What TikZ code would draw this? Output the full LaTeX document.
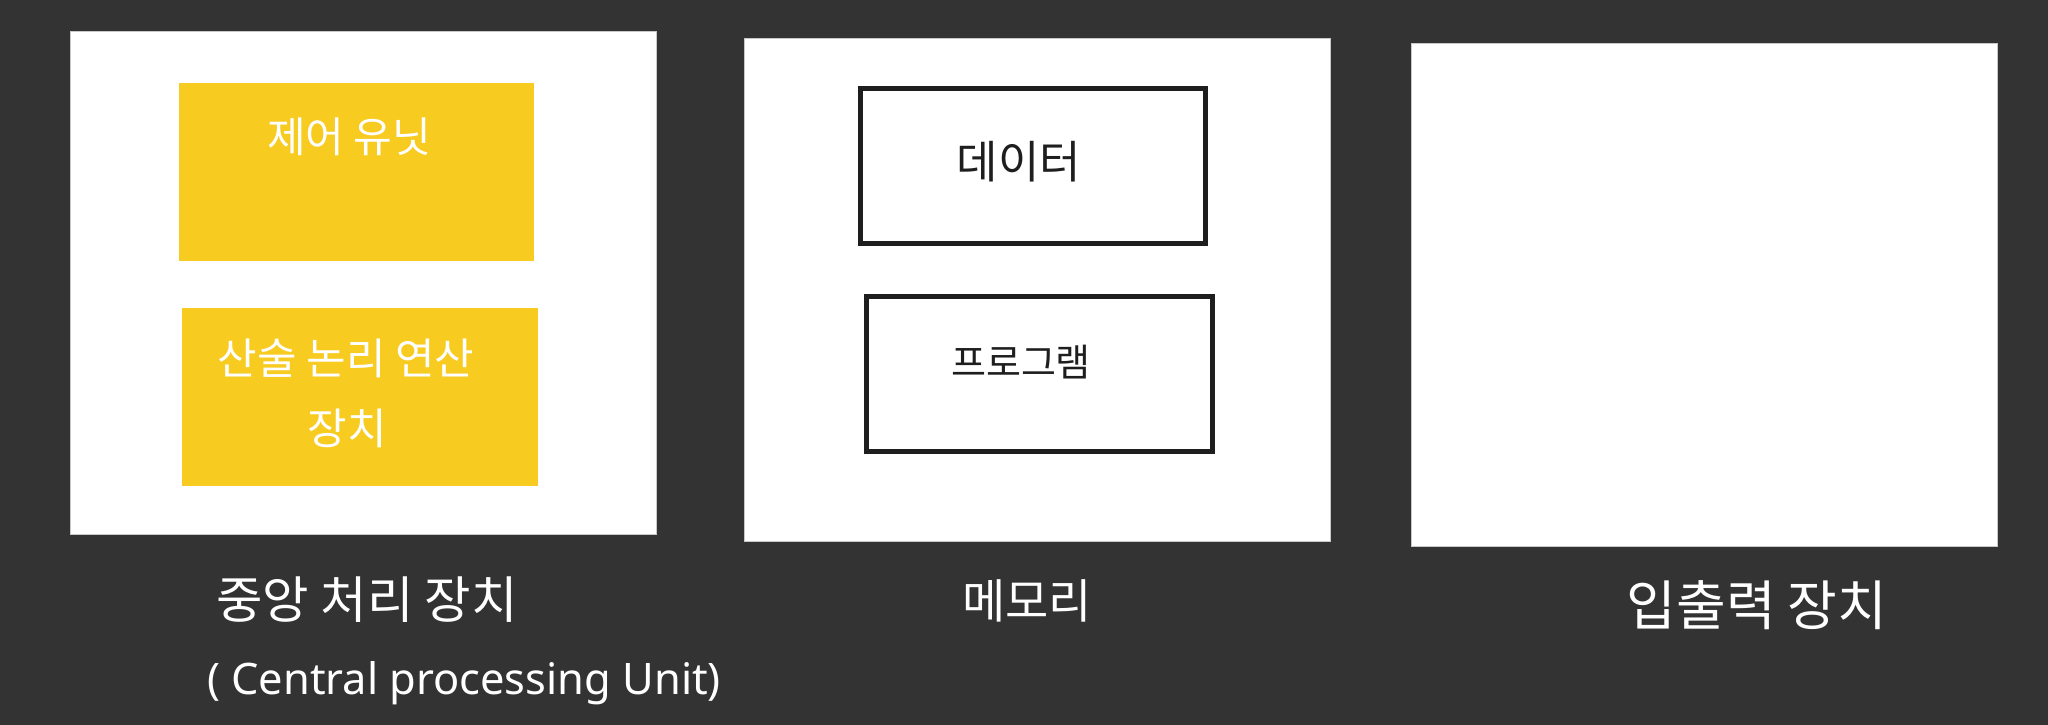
\documentclass[tikz,border=0pt]{standalone}
\usepackage{fontspec}
\setmainfont{Noto Sans CJK KR}
\newfontfamily\latinhand{Noto Sans}
\definecolor{bgdark}{HTML}{333333}
\definecolor{cardyellow}{HTML}{F7CB1F}
\definecolor{panelrim}{HTML}{C8C8C8}
\definecolor{inkblack}{HTML}{1E1E1E}
\tikzset{
  panel/.style={rectangle, fill=white, draw=panelrim, line width=1pt, inner sep=0pt, outer sep=0pt, minimum width=586pt, minimum height=502pt},
  yellowcard/.style={rectangle, fill=cardyellow, inner sep=0pt, outer sep=0pt, minimum height=178pt},
  memcard/.style={rectangle, fill=white, draw=inkblack, line width=5pt, inner sep=0pt, outer sep=0pt, minimum height=155pt},
  whitetxt/.style={text=white, inner sep=0pt},
  blacktxt/.style={text=inkblack, inner sep=0pt},
}
\begin{document}
\begin{tikzpicture}[x=1pt, y=-1pt]
\fill[bgdark] (0,0) rectangle (2048,725);
\useasboundingbox (0,0) rectangle (2048,725);
% panels
\node[panel] (cpu) at (363,283) {};
\node[panel] (mem) at (1037,290) {};
\node[panel] (io) at (1704,295) {};
% CPU parts
\node[yellowcard, minimum width=355pt] (cu) at (356.5,172) {};
\node[yellowcard, minimum width=356pt] (alu) at (360,397) {};
\node[whitetxt, font=\fontsize{42}{50}\selectfont] (cutxt) at (349,137) {제어 유닛};
\node[whitetxt, font=\fontsize{43}{70}\selectfont] (alutxt1) at (346,358) {산술 논리 연산};
\node[whitetxt, font=\fontsize{43}{70}\selectfont] (alutxt2) at (347,428) {장치};
% memory parts
\node[memcard, minimum width=345pt] (data) at (1033,166) {};
\node[memcard, minimum width=346pt] (prog) at (1039.5,374) {};
\node[blacktxt, font=\fontsize{45}{54}\selectfont] (datatxt) at (1019,162) {데이터};
\node[blacktxt, font=\fontsize{38}{46}\selectfont] (progtxt) at (1021,362) {프로그램};
% labels
\node[whitetxt, font=\fontsize{50.5}{58}\selectfont] (cpulabel) at (367,600) {중앙 처리 장치};
\node[whitetxt, font=\latinhand\fontsize{43.4}{52}\selectfont] (cpusub) at (464,683) {( Central processing Unit)};
\node[whitetxt, font=\fontsize{47}{56}\selectfont] (memlabel) at (1027,601) {메모리};
\node[whitetxt, font=\fontsize{54}{62}\selectfont] (iolabel) at (1757,605) {입출력 장치};
\end{tikzpicture}
\end{document}
